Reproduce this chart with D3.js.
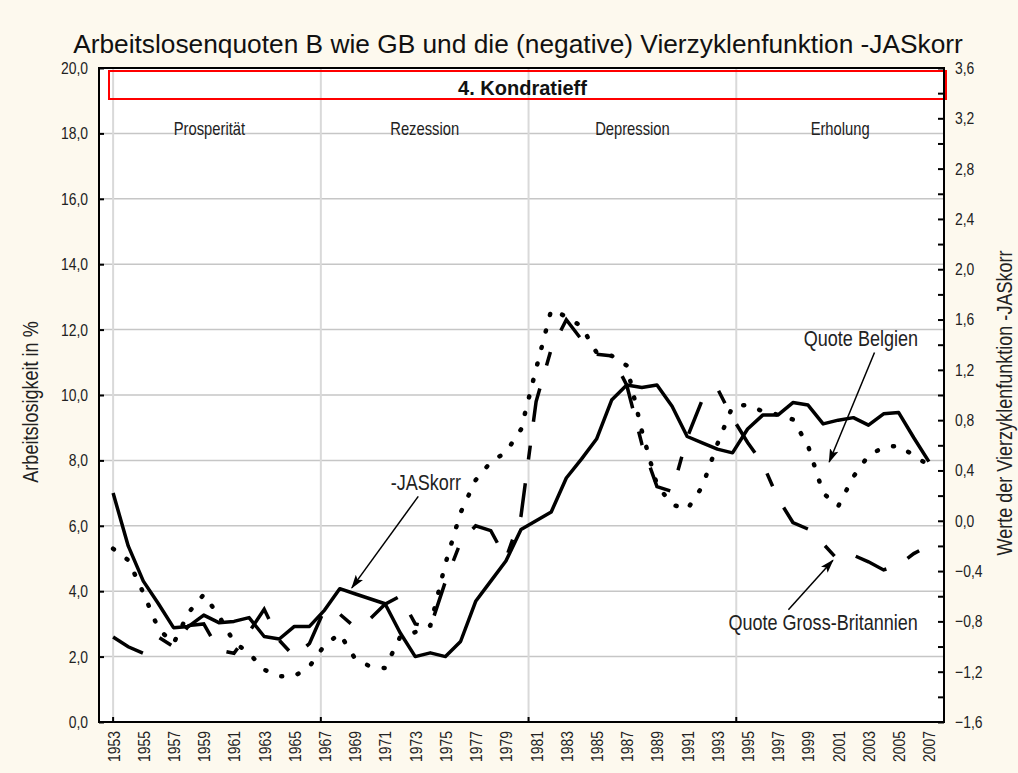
<!DOCTYPE html>
<html>
<head>
<meta charset="utf-8">
<script src="https://cdnjs.cloudflare.com/ajax/libs/d3/7.8.5/d3.min.js"></script>
<style>
  html, body { margin: 0; padding: 0; background: #fdf9ee; }
  svg { display: block; }
  .nar { font-family: "Liberation Sans", Arial, sans-serif; fill: #222; }
</style>
</head>
<body>
<svg id="chart" width="1018" height="773"></svg>
<script>
// Jahre 1953..2007
var years = d3.range(1953, 2008);

// Arbeitslosenquote Belgien (linke Achse, %)
var quoteBelgien = [5.3, 4.95, 3.95, 2.85, 2.4, 3.35, 3.9, 3.25, 2.45, 2.1,
  1.6, 1.4, 1.4, 1.7, 2.35, 2.7, 1.95, 1.7, 1.65, 2.6,
  2.75, 2.95, 4.85, 6.4, 7.4, 7.95, 8.25, 8.95, 10.8, 12.6,
  12.4, 12.1, 11.3, 11.2, 10.9, 8.9, 7.25, 6.65, 6.5, 7.2,
  8.5, 9.65, 9.7, 9.5, 9.4, 9.25, 8.45, 7.0, 6.6, 7.5,
  8.15, 8.4, 8.45, 8.15, 7.85];

// Arbeitslosenquote Gross-Britannien (linke Achse, %)
var quoteGB = [2.6, 2.3, 2.1, 2.6, 2.3, 2.95, 3.0, 2.2, 2.1, 2.75,
  3.45, 2.5, 2.0, 2.4, 3.45, 3.3, 2.9, 3.15, 3.6, 3.85,
  3.0, 2.9, 4.3, 5.5, 6.0, 5.85, 5.0, 6.3, 9.8, 11.4,
  12.3, 11.7, 11.25, 11.2, 10.3, 8.5, 7.2, 7.05, 8.7, 9.85,
  10.2, 9.3, 8.55, 7.9, 6.85, 6.1, 5.9, 5.45, 4.95, 5.1,
  4.9, 4.65, 4.8, 5.15, 5.4];

// negative Vierzyklenfunktion -JASkorr (rechte Achse)
var jasKorr = [0.22, -0.20, -0.48, -0.66, -0.85, -0.84, -0.75, -0.81, -0.80, -0.77,
  -0.92, -0.94, -0.84, -0.84, -0.71, -0.54, -0.58, -0.62, -0.66, -0.89,
  -1.08, -1.05, -1.08, -0.96, -0.64, -0.48, -0.32, -0.07, 0.00, 0.07,
  0.34, 0.49, 0.65, 0.96, 1.08, 1.06, 1.08, 0.91, 0.67, 0.62,
  0.57, 0.54, 0.73, 0.84, 0.84, 0.94, 0.92, 0.77, 0.80, 0.82,
  0.76, 0.85, 0.86, 0.66, 0.47];

var leftTicks = [0, 2, 4, 6, 8, 10, 12, 14, 16, 18, 20];
var rightTicks = d3.range(-8, 19).map(function(i) { return Math.round(i * 2) / 10; }); // -1.6 .. 3.6 step 0.2
var xLabelYears = years.filter(function(y) { return y % 2 === 1; });

var phases = ["Prosperität", "Rezession", "Depression", "Erholung"];
var phaseBounds = [1952, 1966.75, 1980.5, 1994.25, 2008];
var vGrid = [1953, 1966.75, 1980.5, 1994.25];

var annotations = [
  {text: "-JASkorr", tx: 1973.7, ty: 7.1, from: [1973.2, 6.9], to: [1968.8, 4.1]},
  {text: "Quote Belgien", tx: 2002.5, ty: 11.5, from: [2003.4, 11.3], to: [2000.4, 7.95]},
  {text: "Quote Gross-Britannien", tx: 2000.0, ty: 2.8, from: [1997.7, 3.43], to: [2000.65, 4.95]}
];

var title = "Arbeitslosenquoten B wie GB und die (negative) Vierzyklenfunktion -JASkorr";

var L = 99, R = 944, T = 68, B = 722;
var svg = d3.select("#chart");

var x = d3.scaleLinear().domain([1952, 2008]).range([98, R]);
var yL = d3.scaleLinear().domain([0, 20]).range([B, T]);
var yR = d3.scaleLinear().domain([-1.6, 3.6]).range([B, T]);
var comma = function(d) { return d3.format(".1f")(d).replace(".", ","); };

svg.append("rect").attr("width", 1018).attr("height", 773).attr("fill", "#fdf9ee");
svg.append("rect").attr("x", L).attr("y", T).attr("width", R - L).attr("height", B - T).attr("fill", "#fff");

// Gitter
svg.append("g").selectAll("line").data(leftTicks.slice(1, -1)).enter().append("line")
  .attr("x1", L).attr("x2", R)
  .attr("y1", function(d) { return yL(d); }).attr("y2", function(d) { return yL(d); })
  .attr("stroke", "#c6c6c6").attr("stroke-width", 1.5);
svg.append("g").selectAll("line").data(vGrid).enter().append("line")
  .attr("x1", function(d) { return x(d); }).attr("x2", function(d) { return x(d); })
  .attr("y1", T).attr("y2", B)
  .attr("stroke", "#d9d9d9").attr("stroke-width", 2);

// Kondratieff-Kasten
svg.append("rect").attr("x", L + 10).attr("y", T + 3).attr("width", R - L - 8).attr("height", 28)
  .attr("fill", "none").attr("stroke", "#ff0000").attr("stroke-width", 2);
svg.append("text").attr("x", (L + R) / 2 + 1).attr("y", T + 27)
  .attr("text-anchor", "middle").attr("font-family", "Liberation Sans, Arial, sans-serif")
  .attr("font-weight", "bold").attr("font-size", 20).attr("fill", "#111").text("4. Kondratieff");

svg.append("g").selectAll("text").data(phases).enter().append("text")
  .attr("class", "nar")
  .attr("x", function(d, i) { return x((phaseBounds[i] + phaseBounds[i + 1]) / 2); })
  .attr("y", 135).attr("text-anchor", "middle").attr("font-size", 18)
  .text(function(d) { return d; });

// Linien
function line(yScale) {
  return d3.line().x(function(d, i) { return x(years[i]); }).y(function(d) { return yScale(d); });
}
svg.append("path").datum(jasKorr).attr("d", line(yR))
  .attr("fill", "none").attr("stroke", "#000").attr("stroke-width", 3.5).attr("stroke-linejoin", "round");
svg.append("path").datum(quoteGB).attr("d", line(yL))
  .attr("fill", "none").attr("stroke", "#000").attr("stroke-width", 3.5)
  .attr("stroke-dasharray", "34,24,14,24");
svg.append("path").datum(quoteBelgien).attr("d", line(yL))
  .attr("fill", "none").attr("stroke", "#000").attr("stroke-width", 4.5)
  .attr("stroke-linecap", "round").attr("stroke-dasharray", "1,16");

// Rahmen
svg.append("rect").attr("x", L).attr("y", T).attr("width", R - L).attr("height", B - T)
  .attr("fill", "none").attr("stroke", "#000").attr("stroke-width", 2);

// Achsen
var axL = svg.append("g").attr("transform", "translate(" + L + ",0)")
  .call(d3.axisLeft(yL).tickValues(leftTicks).tickSize(-5).tickPadding(11).tickFormat(comma));
var axR = svg.append("g").attr("transform", "translate(" + R + ",0)")
  .call(d3.axisRight(yR).tickValues(rightTicks).tickSize(-6).tickPadding(11)
    .tickFormat(function(d) { return Math.round(d * 10) % 4 === 0 ? comma(d) : ""; }));
axR.selectAll(".tick text").filter(function() { return this.textContent === ""; }).remove();
var axB = svg.append("g").attr("transform", "translate(0," + B + ")")
  .call(d3.axisBottom(x).tickValues(xLabelYears).tickSize(0).tickFormat(d3.format("d")));
axB.selectAll("text").attr("transform", "rotate(-90)").attr("x", -9).attr("y", 0)
  .attr("dy", "0.35em").attr("text-anchor", "end");
svg.append("g").selectAll("line").data(vGrid).enter().append("line")
  .attr("x1", function(d) { return x(d); }).attr("x2", function(d) { return x(d); })
  .attr("y1", B).attr("y2", B - 5).attr("stroke", "#000").attr("stroke-width", 2);

[axL, axR, axB].forEach(function(g) {
  g.select(".domain").remove();
  g.selectAll(".tick line").attr("stroke", "#000").attr("stroke-width", 2);
  g.selectAll("text").attr("class", "nar").attr("font-size", 17).attr("fill", "#222");
});

// Titel und Achsentitel
svg.append("text").attr("x", 518).attr("y", 53).attr("text-anchor", "middle")
  .attr("font-family", "Liberation Sans, Arial, sans-serif").attr("font-size", 26.3).attr("fill", "#111")
  .text(title);
svg.append("text").attr("class", "nar").attr("font-size", 22)
  .attr("transform", "translate(38,402) rotate(-90)").attr("text-anchor", "middle")
  .text("Arbeitslosigkeit in %");
svg.append("text").attr("class", "nar").attr("font-size", 22)
  .attr("transform", "translate(1012,403) rotate(-90)").attr("text-anchor", "middle")
  .text("Werte der Vierzyklenfunktion -JASkorr");

// Beschriftungen mit Pfeilen
svg.append("defs").append("marker").attr("id", "arr")
  .attr("viewBox", "0 -5 14 10").attr("refX", 13).attr("refY", 0)
  .attr("markerWidth", 14).attr("markerHeight", 10).attr("markerUnits", "userSpaceOnUse")
  .attr("orient", "auto")
  .append("path").attr("d", "M0,-4.5L14,0L0,4.5L3,0Z").attr("fill", "#000");

var ann = svg.append("g");
ann.selectAll("line").data(annotations).enter().append("line")
  .attr("x1", function(d) { return x(d.from[0]); }).attr("y1", function(d) { return yL(d.from[1]); })
  .attr("x2", function(d) { return x(d.to[0]); }).attr("y2", function(d) { return yL(d.to[1]); })
  .attr("stroke", "#000").attr("stroke-width", 1.5).attr("marker-end", "url(#arr)");
ann.selectAll("text").data(annotations).enter().append("text")
  .attr("class", "nar").attr("font-size", 22).attr("text-anchor", "middle")
  .attr("x", function(d) { return x(d.tx); }).attr("y", function(d) { return yL(d.ty); })
  .text(function(d) { return d.text; });

// schmale Schrift nachbilden (Arial Narrow ist nicht installiert):
// Anker nach translate() verschieben und horizontal stauchen
svg.selectAll("text.nar").each(function() {
  var t = d3.select(this);
  var tx = +t.attr("x") || 0, ty = +t.attr("y") || 0;
  var tr = t.attr("transform") || "";
  t.attr("transform", tr + " translate(" + tx + "," + ty + ") scale(0.82,1)")
    .attr("x", 0).attr("y", 0);
});
</script>
</body>
</html>
